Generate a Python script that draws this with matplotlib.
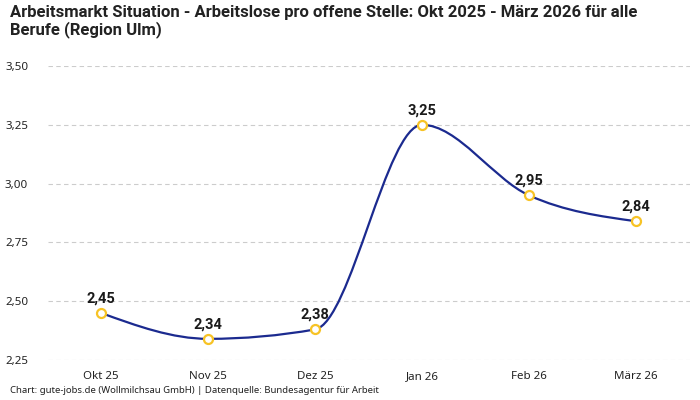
import matplotlib
matplotlib.use('Agg')
import matplotlib.pyplot as plt
from matplotlib.path import Path
from matplotlib.patches import PathPatch
import numpy as np

plt.rcParams['font.family'] = ['Noto Sans', 'DejaVu Sans']
fett = ['Roboto', 'DejaVu Sans']

# Daten
monate = ['Okt 25', 'Nov 25', 'Dez 25', 'Jan 26', 'Feb 26', 'März 26']
werte = [2.45, 2.34, 2.38, 3.25, 2.95, 2.84]
y_ticks = [2.25, 2.50, 2.75, 3.00, 3.25, 3.50]

titel = 'Arbeitsmarkt Situation - Arbeitslose pro offene Stelle: Okt 2025 - März 2026 für alle\nBerufe (Region Ulm)'
fussnote = 'Chart: gute-jobs.de (Wollmilchsau GmbH) | Datenquelle: Bundesagentur für Arbeit'

linie_farbe = '#1b2a8f'
punkt_farbe = '#f7c325'


def monotone_pfad(x, y):
    # Bezier-Kurve mit monotonen Tangenten (wie curveMonotoneX)
    x = np.asarray(x, float)
    y = np.asarray(y, float)
    h = np.diff(x)
    d = np.diff(y) / h
    m = np.zeros_like(y)
    for i in range(1, len(y) - 1):
        if d[i - 1] * d[i] <= 0:
            m[i] = 0
        else:
            p = (d[i - 1] * h[i] + d[i] * h[i - 1]) / (h[i - 1] + h[i])
            m[i] = np.sign(d[i]) * min(abs(p), 2 * min(abs(d[i - 1]), abs(d[i])))
    # Randtangenten wie d3
    m[0] = (3 * d[0] - m[1]) / 2
    m[-1] = (3 * d[-1] - m[-2]) / 2
    verts = [(x[0], y[0])]
    codes = [Path.MOVETO]
    for i in range(len(x) - 1):
        dx = h[i] / 3
        verts += [(x[i] + dx, y[i] + m[i] * dx),
                  (x[i + 1] - dx, y[i + 1] - m[i + 1] * dx),
                  (x[i + 1], y[i + 1])]
        codes += [Path.CURVE4] * 3
    return Path(verts, codes)


fig = plt.figure(figsize=(7, 4), dpi=100)
ax = fig.add_axes([0.068, 0.10, 0.917, 0.735])

xs = np.arange(len(monate))
ax.add_patch(PathPatch(monotone_pfad(xs, werte), facecolor='none',
                       edgecolor=linie_farbe, linewidth=1.6, zorder=3))
ax.scatter(xs, werte, s=42, facecolor='white', edgecolor=punkt_farbe,
           linewidth=1.6, zorder=4)

for x, w in zip(xs, werte):
    ax.annotate(f'{w:.2f}'.replace('.', ','), (x, w), xytext=(0, 5.5),
                textcoords='offset points', ha='center', va='bottom',
                fontsize=10.5, fontweight='bold', color='#1a1a1a', family=fett)

ax.set_xlim(-0.5, len(monate) - 0.5)
ax.set_ylim(2.25, 3.5)
ax.set_xticks(xs)
ax.set_xticklabels(monate)
ax.set_yticks(y_ticks)
ax.set_yticklabels([f'{t:.2f}'.replace('.', ',') for t in y_ticks])
ax.tick_params(axis='both', length=0, labelsize=8.3, colors='#222222')
ax.tick_params(axis='y', pad=14)
ax.tick_params(axis='x', pad=8)
ax.grid(axis='y', color='#cccccc', linestyle=(0, (4, 3)), linewidth=0.8)
for s in ax.spines.values():
    s.set_visible(False)

fig.text(0.014, 0.988, titel, ha='left', va='top', fontsize=12,
         fontweight='bold', color='#222222', linespacing=1.1, family=fett)
fig.text(0.014, 0.012, fussnote, ha='left', va='bottom', fontsize=6.9,
         color='#222222')

fig.savefig('out.png', dpi=100)
